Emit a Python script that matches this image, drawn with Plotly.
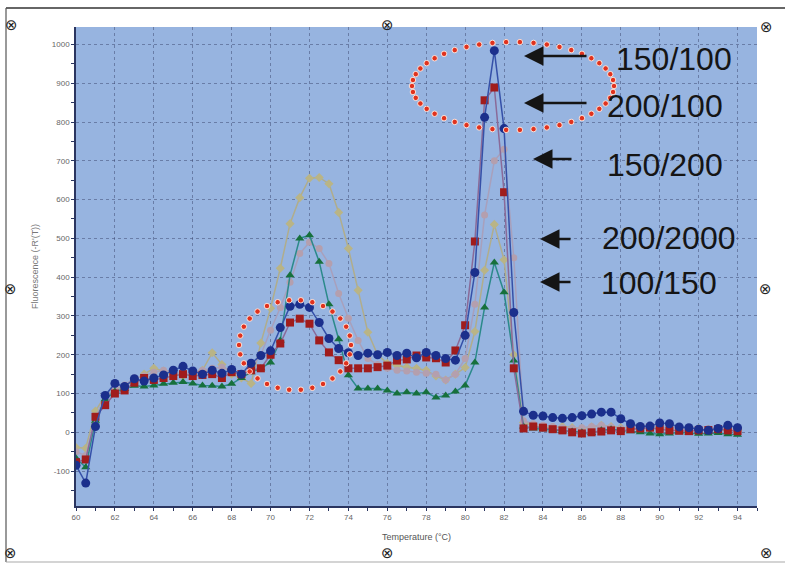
import numpy as np
import plotly.graph_objects as go

# Melt-curve derivative data: temperature steps of 0.5 °C from 60 to 94 °C
temperature = [60.0 + 0.5 * i for i in range(69)]

series_names = ["150/100", "200/100", "150/200", "200/2000", "100/150"]

fluor_150_100 = [
    -85, -131, 15, 95, 126, 118, 138, 132, 140,
    148, 160, 170, 158, 150, 160, 152, 162, 150, 178, 198,
    210, 270, 325, 330, 322, 283, 242, 216, 205, 198,
    204, 200, 206, 198, 204, 192, 206, 198, 190, 186,
    250, 412, 812, 984, 783, 309, 54, 44, 42, 38,
    36, 38, 43, 47, 52, 52, 35, 22, 15, 16,
    24, 22, 14, 12, 8, 5, 10, 18, 12,
]
fluor_200_100 = [
    -77, -70, 40, 70, 100, 108, 128, 140, 135,
    140, 145, 150, 145, 148, 150, 140, 155, 150, 160, 165,
    200, 229, 283, 293, 280, 237, 206, 186, 165, 165,
    165, 168, 172, 185, 188, 198, 193, 191, 180, 211,
    276, 492, 856, 889, 619, 165, 10, 15, 12, 8,
    5, 0, -3, 0, 2, 5, 3, 8, 10, 12,
    8, 5, 4, 3, 5, 6, 8, 5, 3,
]
fluor_150_200 = [
    -50, -60, 40, 90, 112, 122, 140, 145, 155,
    160, 155, 150, 155, 160, 165, 168, 158, 150, 165, 200,
    263, 322, 387, 461, 490, 474, 435, 358, 294, 237,
    190, 175, 165, 160, 158, 155, 152, 150, 135, 150,
    190, 330, 560, 700, 730, 450, 30, 22, 18, 15,
    12, 10, 12, 15, 18, 14, 10, 12, 10, 8,
    10, 12, 8, 6, 8, 10, 12, 8, 6,
]
fluor_200_2000 = [
    -39, -41, 55, 95, 108, 118, 135, 150, 165,
    158, 150, 145, 150, 160, 205, 175, 150, 140, 126, 230,
    320, 423, 538, 605, 655, 657, 641, 567, 474, 366,
    258, 200, 178, 172, 168, 165, 160, 145, 135, 150,
    167, 260, 418, 536, 445, 200, 25, 18, 15, 12,
    15, 12, 10, 14, 18, 15, 12, 10, 8, 10,
    12, 10, 8, 6, 10, 8, 5, 6, 4,
]
fluor_100_150 = [
    -67, -90, 30, 85, 105, 112, 120, 118, 121,
    125, 128, 130, 126, 121, 120, 118, 125, 140, 155, 165,
    180, 237, 405, 500, 508, 440, 330, 240, 147, 113,
    113, 113, 108, 100, 103, 100, 103, 90, 95, 105,
    121, 180, 322, 438, 361, 185, 15, 10, 8, 5,
    3, 2, 0, -2, 5, 8, 5, 3, 0, -3,
    -5, -3, 0, -2, -4, -3, -2, -5, -6,
]

x_ticks = list(range(60, 95, 2))
y_ticks = list(range(-100, 1001, 100))

X_RANGE = [60, 95]
Y_RANGE = [-190, 1045]

# Plot-area placement in page pixels
W, H = 785, 567
PL, PR, PT, PB = 76, 757, 27, 506


def px_to_paper(px, py):
    return (px - PL) / (PR - PL), (PB - py) / (PB - PT)


def px_to_data(px, py):
    x = X_RANGE[0] + (px - PL) / (PR - PL) * (X_RANGE[1] - X_RANGE[0])
    y = Y_RANGE[0] + (PB - py) / (PB - PT) * (Y_RANGE[1] - Y_RANGE[0])
    return x, y


fig = go.Figure()

styles = [
    # (values, marker colour, line colour, symbol, size)
    (fluor_200_2000, "#b9b486", "#b0ad8c", "diamond", 7),
    (fluor_150_200, "#b49fae", "#a8a0bc", "circle", 7),
    (fluor_100_150, "#17703c", "#2b8a8a", "triangle-up", 8),
    (fluor_200_100, "#a01c1c", "#8a6a98", "square", 8),
    (fluor_150_100, "#1b2f8c", "#3550a8", "circle", 9),
]
names_by_order = ["200/2000", "150/200", "100/150", "200/100", "150/100"]

for (vals, mcol, lcol, sym, sz), name in zip(styles, names_by_order):
    fig.add_trace(go.Scatter(
        x=temperature, y=vals, name=name, mode="lines+markers",
        line=dict(color=lcol, width=1.5),
        marker=dict(color=mcol, symbol=sym, size=sz, line=dict(width=0)),
        showlegend=False, hoverinfo="skip",
    ))

# Red dotted ellipses highlighting the peaks
for (cx, cy, rx, ry, n) in [(513, 86, 101, 44, 46), (295, 345, 56, 45, 30)]:
    t = np.linspace(0, 2 * np.pi, n, endpoint=False)
    pts = [px_to_data(cx + rx * np.cos(a), cy + ry * np.sin(a)) for a in t]
    fig.add_trace(go.Scatter(
        x=[p[0] for p in pts], y=[p[1] for p in pts], mode="markers",
        marker=dict(color="#e0321e", size=5.5, line=dict(color="rgba(255,235,225,0.9)", width=1)),
        showlegend=False, hoverinfo="skip",
    ))

annotations = []

# Series labels with arrows
label_pos = [("150/100", 674, 59), ("200/100", 665, 106), ("150/200", 665, 165),
             ("200/2000", 668, 238), ("100/150", 659, 283)]
for text, px, py in label_pos:
    x, y = px_to_paper(px, py)
    annotations.append(dict(x=x, y=y, xref="paper", yref="paper", text=text,
                            showarrow=False, font=dict(family="Liberation Sans, Arial", size=32, color="#151515"),
                            xanchor="center", yanchor="middle"))

arrows = [(524, 56, 588), (524, 103, 588), (533, 159, 573), (540, 239, 572), (540, 282, 572)]
for hx, hy, tx in arrows:
    x, y = px_to_paper(hx, hy)
    annotations.append(dict(x=x, y=y, xref="paper", yref="paper", text="",
                            showarrow=True, ax=tx - hx, ay=0, arrowhead=2,
                            arrowsize=1.5, arrowwidth=2.6, arrowcolor="#151515"))

# Selection handles around the chart object
for hx, hy in [(11, 25), (387, 25), (766, 27), (10, 289), (765, 289),
               (10, 553), (387, 553), (766, 553)]:
    x, y = px_to_paper(hx, hy)
    annotations.append(dict(x=x, y=y, xref="paper", yref="paper", text="⊗",
                            showarrow=False, font=dict(family="DejaVu Sans", size=15, color="#222"),
                            xanchor="center", yanchor="middle"))

# Outer frame
shapes = []
x0, y_top = px_to_paper(6, 8)
x1, y_bot = px_to_paper(785, 562)
shapes.append(dict(type="line", xref="paper", yref="paper", x0=x0, x1=x1, y0=y_top, y1=y_top,
                   line=dict(color="#333", width=1.5)))
shapes.append(dict(type="line", xref="paper", yref="paper", x0=x0, x1=x0, y0=y_top, y1=y_bot,
                   line=dict(color="#555", width=1.2)))
shapes.append(dict(type="line", xref="paper", yref="paper", x0=x0, x1=x1, y0=y_bot, y1=y_bot,
                   line=dict(color="#aaa", width=1.2)))

fig.update_layout(
    width=W, height=H,
    margin=dict(l=PL, r=W - PR, t=PT, b=H - PB),
    paper_bgcolor="white",
    plot_bgcolor="#97b4e0",
    font=dict(family="Liberation Sans, Arial", color="#666"),
    annotations=annotations,
    shapes=shapes,
)

fig.update_xaxes(
    range=X_RANGE, tickvals=x_ticks, ticktext=[str(v) for v in x_ticks],
    showgrid=True, gridcolor="rgba(60,70,110,0.5)", griddash="dot", gridwidth=1,
    showline=True, linecolor="#2a3560", linewidth=1.5,
    ticks="outside", ticklen=3, tickcolor="#2a3560",
    minor=dict(dtick=1, ticklen=3, tickcolor="#2a3560", ticks="outside", showgrid=False),
    tickfont=dict(size=8, color="#666"),
    title=dict(text="Temperature (°C)", font=dict(size=9, color="#555"), standoff=12),
    zeroline=False,
)
fig.update_yaxes(
    range=Y_RANGE, tickvals=y_ticks, ticktext=[str(v) for v in y_ticks],
    showgrid=True, gridcolor="rgba(60,70,110,0.5)", griddash="dot", gridwidth=1,
    showline=True, linecolor="#2a3560", linewidth=1.5,
    ticks="outside", ticklen=3, tickcolor="#2a3560",
    minor=dict(dtick=50, ticklen=3, tickcolor="#2a3560", ticks="outside", showgrid=False),
    tickfont=dict(size=8, color="#666"),
    title=dict(text="Fluorescence (-R'(T))", font=dict(size=9, color="#777"), standoff=12),
    zeroline=False,
)

fig.write_html("out.html")
